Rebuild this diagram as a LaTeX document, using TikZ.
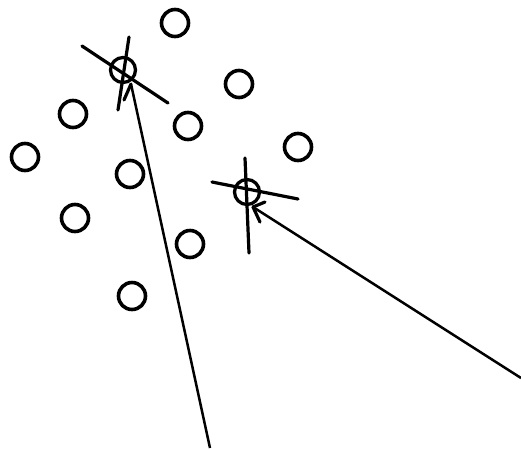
\documentclass[tikz,border=0pt]{standalone}
\begin{document}
\begin{tikzpicture}[x=1pt,y=-1pt,
  ring/.style={circle,draw,line width=3.6pt,minimum size=27pt,inner sep=0pt},
  target/.style={circle,draw,line width=3.3pt,minimum size=25pt,inner sep=0pt},
  hair/.style={line width=3.2pt,line cap=round},
  ray/.style={line width=2.5pt}]
\useasboundingbox (0,0) rectangle (521,448);
\fill[white] (0,0) rectangle (521,448);
% plain circles
\node[ring] (c1) at (175,23) {};
\node[ring] (c3) at (239,84) {};
\node[ring] (c4) at (73,114) {};
\node[ring] (c5) at (188,126) {};
\node[ring] (c6) at (298,147) {};
\node[ring] (c7) at (25,157) {};
\node[ring] (c8) at (130,174) {};
\node[ring] (c10) at (75,218) {};
\node[ring] (c11) at (190,244) {};
\node[ring] (c12) at (132,296) {};
% target 1
\node[target] (t1) at (123,70) {};
\coordinate (h1a) at (82,46);
\coordinate (h1b) at (168,103);
\coordinate (v1a) at (129,37);
\coordinate (v1b) at (118,110);
\coordinate (s1a) at (131,84);
\coordinate (s1b) at (124,100);
\coordinate (e1) at (210,448);
\draw[hair] (h1a) -- (h1b);
\draw[hair] (v1a) -- (v1b);
\draw[hair] (s1a) -- (s1b);
\draw[ray] (s1a) -- (e1);
% target 2
\node[target] (t2) at (247,192) {};
\coordinate (h2a) at (212,182);
\coordinate (h2b) at (298,199);
\coordinate (v2a) at (245,158);
\coordinate (v2b) at (249,253);
\coordinate (s2a) at (253,207);
\coordinate (s2b) at (260,222);
\coordinate (s2c) at (265,202);
\coordinate (e2) at (521,378);
\draw[hair] (h2a) -- (h2b);
\draw[hair] (v2a) -- (v2b);
\draw[hair] (s2a) -- (s2b);
\draw[hair] (s2a) -- (s2c);
\draw[ray] (s2a) -- (e2);
\end{tikzpicture}
\end{document}
